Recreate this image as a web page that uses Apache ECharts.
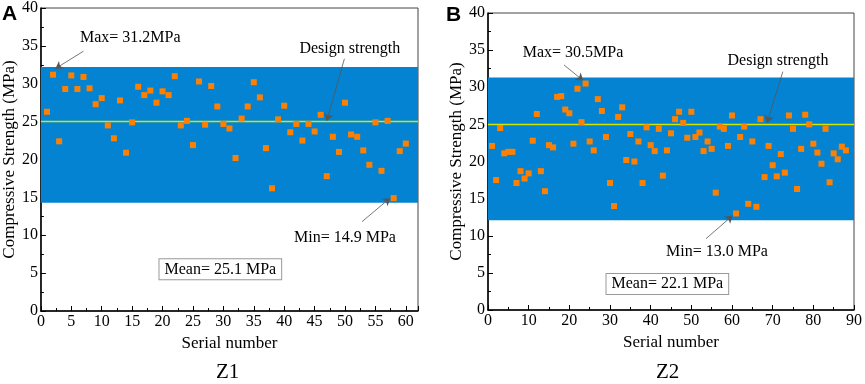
<!DOCTYPE html>
<html>
<head>
<meta charset="utf-8">
<script src="https://cdn.jsdelivr.net/npm/echarts@6/dist/echarts.min.js"></script>
<style>
  html, body { margin: 0; padding: 0; background: #fff; }
  #main { width: 865px; height: 384px; }
</style>
</head>
<body>
<div id="main"></div>
<script>
// compressive strength of each specimen, in serial order
var z1Strength = [26.3, 31.2, 22.4, 29.3, 31.1, 29.3, 30.9, 29.4, 27.3, 28.1,
    24.5, 22.8, 27.8, 20.9, 24.9, 29.6, 28.5, 29.1, 27.5, 29.0,
    28.5, 31.0, 24.5, 25.1, 21.9, 30.3, 24.6, 29.7, 27.0, 24.7,
    24.1, 20.2, 25.4, 27.0, 30.2, 28.2, 21.5, 16.2, 25.3, 27.1,
    23.6, 24.7, 22.5, 24.7, 23.7, 25.9, 17.8, 23.0, 21.0, 27.5,
    23.3, 23.0, 21.2, 19.3, 24.9, 18.5, 25.1, 14.9, 21.1, 22.1];
var z2Strength = [22.1, 17.5, 24.5, 21.1, 21.3, 21.3, 17.1, 18.7, 17.7, 18.4,
    22.8, 26.4, 18.7, 16.0, 22.2, 21.9, 28.7, 28.8, 27.0, 26.5,
    22.4, 29.8, 25.3, 30.5, 22.7, 21.5, 28.4, 26.8, 23.3, 17.1,
    14.0, 26.0, 27.3, 20.2, 23.7, 20.0, 22.7, 17.1, 24.6, 22.2,
    21.4, 24.4, 18.1, 21.5, 23.8, 25.7, 26.7, 25.2, 23.2, 26.7,
    23.3, 23.9, 21.4, 22.7, 21.7, 15.8, 24.7, 24.4, 22.1, 26.2,
    13.0, 23.3, 24.7, 14.3, 22.7, 13.9, 25.7, 17.9, 22.1, 19.5,
    18.0, 21.0, 18.5, 26.2, 24.4, 16.3, 21.7, 26.3, 25.0, 22.4,
    21.2, 19.7, 24.4, 17.2, 21.1, 20.3, 22.0, 21.5];
var z1Band = [14.3, 32.2];
var z2Band = [12.1, 31.3];
var designStrength = 25;
var z1Notes = ['Max= 31.2MPa', 'Design strength', 'Min= 14.9 MPa', 'Mean= 25.1 MPa'];
var z2Notes = ['Max= 30.5MPa', 'Design strength', 'Min= 13.0 MPa', 'Mean= 22.1 MPa'];

var FONT = 'Liberation Serif';

function toPoints(values) {
    return values.map(function (v, i) { return [i + 1, v]; });
}

function xAxisFor(idx, max, interval) {
    return {
        gridIndex: idx, type: 'value', min: 0, max: max, interval: interval,
        name: 'Serial number', nameLocation: 'middle', nameGap: 22,
        nameTextStyle: { fontFamily: FONT, fontSize: 17, color: '#000' },
        axisLine: { onZero: false, lineStyle: { color: '#000', width: 1.5 } },
        axisTick: { inside: true, length: 5, lineStyle: { color: '#000' } },
        minorTick: { show: true, splitNumber: 2, length: 3, lineStyle: { color: '#000' } },
        axisLabel: { fontFamily: FONT, fontSize: 16, color: '#000', margin: 3, showMaxLabel: max % interval === 0 },
        splitLine: { show: false }
    };
}

function yAxisFor(idx, gap) {
    return {
        gridIndex: idx, type: 'value', min: 0, max: 40, interval: 5,
        name: 'Compressive Strength (MPa)', nameLocation: 'middle', nameGap: gap,
        nameTextStyle: { fontFamily: FONT, fontSize: 17, color: '#000' },
        axisLine: { onZero: false, lineStyle: { color: '#000', width: 1.5 } },
        axisTick: { inside: true, length: 5, lineStyle: { color: '#000' } },
        minorTick: { show: true, splitNumber: 2, length: 3, lineStyle: { color: '#000' } },
        axisLabel: { fontFamily: FONT, fontSize: 16, color: '#000', margin: 3 },
        splitLine: { show: false }
    };
}

function panelSeries(idx, values, band, notes, pos) {
    var txt = { fontFamily: FONT, fontSize: 16, color: '#000' };
    return [
        {
            type: 'line', xAxisIndex: idx, yAxisIndex: idx, data: [], z: 1,
            markArea: {
                silent: true,
                itemStyle: { color: '#0383d2', opacity: 1 },
                data: [[{ yAxis: band[0] }, { yAxis: band[1] }]]
            }
        },
        {
            type: 'line', xAxisIndex: idx, yAxisIndex: idx, data: [], z: 3,
            markLine: {
                silent: true, symbol: 'none', label: { show: false },
                lineStyle: { color: '#d2e600', width: 1.3, type: 'solid', opacity: 1 },
                data: [{ yAxis: designStrength }]
            }
        },
        {
            type: 'scatter', xAxisIndex: idx, yAxisIndex: idx, z: 5,
            symbol: 'rect', symbolSize: 6,
            itemStyle: { color: '#ff8000', opacity: 1 },
            data: toPoints(values)
        },
        {
            type: 'line', xAxisIndex: idx, yAxisIndex: idx, data: [], z: 6,
            markLine: {
                silent: true, symbol: ['none', 'arrow'], symbolSize: 7,
                label: { show: false },
                lineStyle: { color: '#555', width: 0.8, type: 'solid', opacity: 1 },
                data: pos.arrows.map(function (a) {
                    return [{ coord: a[0] }, { coord: a[1] }];
                })
            },
            markPoint: {
                silent: true, symbol: 'rect', symbolSize: 1,
                itemStyle: { color: 'rgba(0,0,0,0)' },
                label: Object.assign({ show: true, position: 'inside', formatter: '{b}' }, txt),
                data: notes.map(function (n, i) {
                    var item = { name: n, coord: pos.text[i] };
                    if (i === 3) {
                        item.label = Object.assign({
                            show: true, position: 'inside', formatter: '{b}',
                            borderColor: '#999', borderWidth: 1, backgroundColor: '#fff',
                            padding: [3, 5, 1, 5]
                        }, txt);
                    }
                    return item;
                })
            }
        }
    ];
}

var chart = echarts.init(document.getElementById('main'));

chart.setOption({
    animation: false,
    grid: [
        { left: 39, top: 6, width: 379, height: 305, show: true, borderColor: '#444', borderWidth: 1 },
        { left: 488, top: 13, width: 370, height: 297, show: true, borderColor: '#444', borderWidth: 1 }
    ],
    xAxis: [xAxisFor(0, 62, 5), xAxisFor(1, 90, 10)],
    yAxis: [yAxisFor(0, 18), yAxisFor(1, 20)],
    series: [].concat(
        panelSeries(0, z1Strength, z1Band, z1Notes, {
            text: [[14.7, 36.1], [50.8, 34.6], [50.0, 9.7], [29.5, 5.5]],
            arrows: [[[7.0, 34.3], [2.4, 32.0]], [[49.9, 33.3], [47.0, 25.1]], [[52.8, 11.8], [57.4, 14.9]]]
        }),
        panelSeries(1, z2Strength, z2Band, z2Notes, {
            text: [[20.9, 34.7], [71.3, 33.6], [56.3, 7.9], [44.1, 3.5]],
            arrows: [[[18.7, 33.0], [23.4, 30.9]], [[72.5, 32.1], [68.6, 25.2]], [[53.6, 9.6], [60.1, 12.7]]]
        })
    ),
    graphic: [
        { type: 'text', left: 2, top: 4, style: { text: 'A', font: 'bold 21px "Liberation Sans"', fill: '#000' } },
        { type: 'text', left: 446, top: 5, style: { text: 'B', font: 'bold 21px "Liberation Sans"', fill: '#000' } },
        { type: 'text', left: 216, top: 362, style: { text: 'Z1', font: '21px "Liberation Serif"', fill: '#000' } },
        { type: 'text', left: 656, top: 362, style: { text: 'Z2', font: '21px "Liberation Serif"', fill: '#000' } }
    ]
});
</script>
</body>
</html>
